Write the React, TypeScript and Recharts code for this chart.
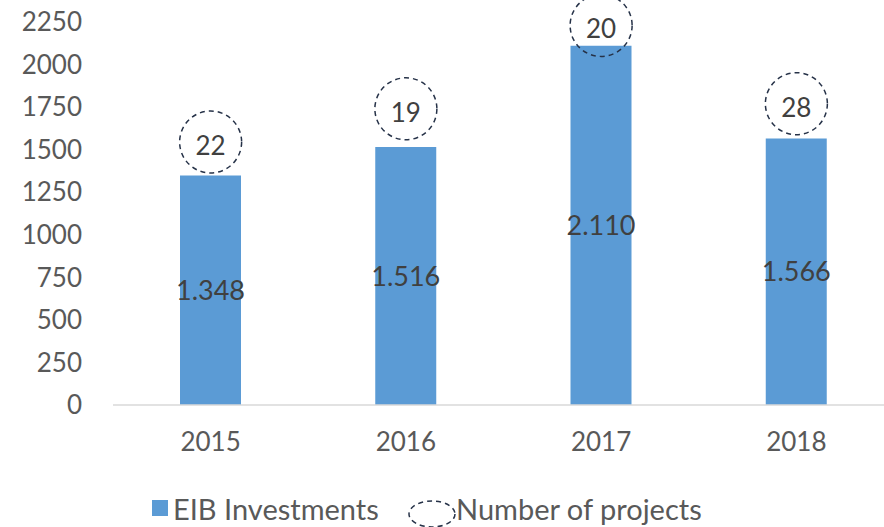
import { Bar, ComposedChart, LabelList, Line, XAxis, YAxis } from "recharts";

const years = ["2015", "2016", "2017", "2018"];
const eibInvestments = [1348, 1516, 2110, 1566];
const projectCounts = [22, 19, 20, 28];
// height (in axis units) where each callout bubble sits above its bar
const bubbleLevels = [1545, 1740, 2230, 1770];
const yTicks = [0, 250, 500, 750, 1000, 1250, 1500, 1750, 2000, 2250];

const data = years.map((year, i) => ({
  year,
  investment: eibInvestments[i],
  projects: projectCounts[i],
  bubble: bubbleLevels[i],
}));

const BAR_BLUE = "#5B9BD5";
const BUBBLE_STROKE = "#263248";
const FONT = "Lato, 'Open Sans', sans-serif";

const fmt = (v: number) => String(v).replace(/\B(?=(\d{3})+(?!\d))/g, ".");

function BubbleDot(props: any) {
  const { cx, cy, index } = props;
  if (cx == null || cy == null) return null;
  return (
    <ellipse
      key={`bubble-${index}`}
      cx={cx}
      cy={cy}
      rx={31}
      ry={31}
      fill="none"
      stroke={BUBBLE_STROKE}
      strokeWidth={1.5}
      strokeDasharray="5 4"
    />
  );
}

function BubbleLabel(props: any) {
  const { x, y, value } = props;
  return (
    <text
      x={x}
      y={y + 3}
      textAnchor="middle"
      dominantBaseline="central"
      fontSize={26}
      fill="#404040"
    >
      {value}
    </text>
  );
}

function ChartLegend() {
  return (
    <svg
      width={884}
      height={40}
      style={{ position: "absolute", left: 0, top: 488 }}
    >
      <rect x={152} y={12} width={16} height={16} fill={BAR_BLUE} />
      <text x={173} y={20} dominantBaseline="central" fontSize={29} fill="#595959">
        EIB Investments
      </text>
      <ellipse
        cx={432}
        cy={26}
        rx={23}
        ry={13}
        fill="none"
        stroke={BUBBLE_STROKE}
        strokeWidth={1.5}
        strokeDasharray="5 4"
      />
      <text x={456} y={20} dominantBaseline="central" fontSize={29} fill="#595959">
        Number of projects
      </text>
    </svg>
  );
}

export default function App() {
  return (
    <div
      style={{
        position: "absolute",
        left: 0,
        top: 0,
        width: 884,
        height: 527,
        overflow: "hidden",
        background: "#fff",
        fontFamily: FONT,
      }}
    >
      <ComposedChart
        width={894}
        height={527}
        data={data}
        margin={{ top: 22, right: 0, bottom: 62, left: 0 }}
      >
        <XAxis
          dataKey="year"
          axisLine={{ stroke: "#D9D9D9", strokeWidth: 1.5 }}
          tickLine={false}
          tickSize={0}
          tickMargin={28}
          height={60}
          tick={{ fill: "#595959", fontSize: 26 }}
        />
        <YAxis
          domain={[0, 2250]}
          ticks={yTicks}
          interval={0}
          axisLine={false}
          tickLine={false}
          tickSize={0}
          tickMargin={31}
          width={113}
          tick={{ fill: "#595959", fontSize: 26 }}
        />
        <Bar dataKey="investment" fill={BAR_BLUE} barSize={61} isAnimationActive={false}>
          <LabelList
            dataKey="investment"
            position="center"
            formatter={(v: any) => fmt(Number(v))}
            fill="#404040"
            fontSize={27}
          />
        </Bar>
        <Line
          dataKey="bubble"
          stroke="none"
          dot={<BubbleDot />}
          activeDot={false}
          isAnimationActive={false}
        >
          <LabelList dataKey="projects" content={<BubbleLabel />} />
        </Line>
      </ComposedChart>
      <ChartLegend />
    </div>
  );
}
